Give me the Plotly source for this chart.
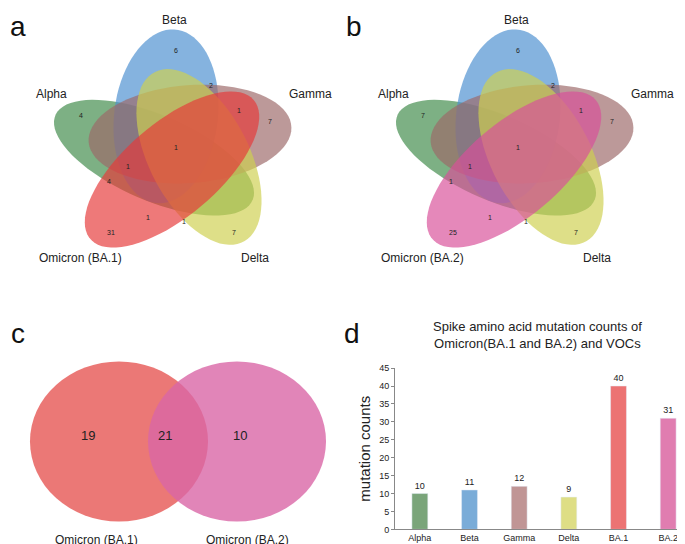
import numpy as np
import plotly.graph_objects as go

# five-set venn counts (panel a: BA.1, panel b: BA.2)
venn_sets = ["Alpha", "Beta", "Gamma", "Delta", "Omicron"]
venn_a_counts = ["6", "2", "1", "7", "4", "1", "1", "4", "1", "1", "31", "7"]
venn_b_counts = ["6", "2", "1", "7", "7", "1", "1", "1", "1", "1", "25", "7"]

# two-set venn
pair_labels = ["Omicron (BA.1)", "Omicron (BA.2)"]
pair_counts = ["19", "21", "10"]

# bar chart
bar_cats = ["Alpha", "Beta", "Gamma", "Delta", "BA.1", "BA.2"]
bar_vals = [10, 11, 12, 9, 40, 31]
bar_colors = ["#7aa57a", "#7aacd8", "#c09595", "#dede85", "#ec7373", "#e07db0"]

W, H = 685, 544
SY = 0.752  # vertical squeeze of the five-set panels


def ellipse_path(cx, cy, a, b, ang):
    t = np.linspace(0, 2 * np.pi, 80)
    r = np.radians(ang)
    xs = cx + a * np.cos(t) * np.cos(r) - b * np.sin(t) * np.sin(r)
    ys = (cy + a * np.cos(t) * np.sin(r) + b * np.sin(t) * np.cos(r)) * SY
    return "M " + " L ".join(f"{x:.1f},{y:.1f}" for x, y in zip(xs, ys)) + " Z"


# ellipse geometry (cx, cy, a, b, angle in screen degrees)
shapes_geo = {
    "Alpha": (146, 196, 115, 54, 34),
    "Beta": (158, 140, 118, 52, -86),
    "Gamma": (182, 164, 102, 66, -8),
    "Delta": (191, 195, 124, 52, 72),
    "Omicron": (164, 212, 126, 54, -53),
}
cols_a = {"Alpha": "#3f8a4a", "Beta": "#4b8fd0", "Gamma": "#9c6868",
          "Delta": "#cfd050", "Omicron": "#e63a3a"}
cols_b = dict(cols_a, Omicron="#d94f9a")

fig = go.Figure()
shapes = []
for dx, cols in [(0, cols_a), (342, cols_b)]:
    for s in venn_sets:
        cx, cy, a, b, ang = shapes_geo[s]
        shapes.append(dict(type="path", path=ellipse_path(cx + dx, cy, a, b, ang),
                           xref="x", yref="y", fillcolor=cols[s], opacity=0.68,
                           line=dict(width=0), layer="below"))

# two-set venn
for cx, col, op in [(111, "#e8605e", 0.85), (229, "#da67a6", 0.8)]:
    shapes.append(dict(type="circle", xref="x", yref="y", x0=cx - 89, x1=cx + 89,
                       y0=355, y1=518, fillcolor=col, opacity=op,
                       line=dict(width=0), layer="below"))

ann = []
num_pos = [(168, 51), (203, 98), (231, 132), (262, 147), (73, 139), (168, 182),
           (120, 208), (101, 228), (140, 277), (176, 282), (103, 298), (226, 298)]
for dx, counts, om in [(0, venn_a_counts, "Omicron (BA.1)"), (342, venn_b_counts, "Omicron (BA.2)")]:
    for (x, y), c in zip(num_pos, counts):
        ann.append(dict(x=x + dx, y=y * SY, text=c, font=dict(size=7, color="#222")))
    for x, y, t in [(166, 10, "Beta"), (43, 110, "Alpha"), (302, 110, "Gamma"),
                    (72, 332, om), (247, 332, "Delta")]:
        ann.append(dict(x=x + dx, y=y * SY, text=t, font=dict(size=12, color="#222")))

for x, t in zip([80, 157, 232], pair_counts):
    ann.append(dict(x=x, y=430, text=t, font=dict(size=13, color="#222")))
for x, t in zip([88, 239], pair_labels):
    ann.append(dict(x=x, y=537, text=t, font=dict(size=12, color="#222")))

for x, y, t in [(10, 14, "a"), (346, 14, "b"), (10, 326, "c"), (344, 326, "d")]:
    ann.append(dict(x=x, y=y, text=t, font=dict(size=28, color="#111")))

ann.append(dict(x=529, y=328, text="Spike amino acid mutation counts of<br>Omicron(BA.1 and BA.2) and VOCs",
                font=dict(size=13, color="#222")))
for a_ in ann:
    a_.update(xref="x", yref="y", showarrow=False)

fig.add_trace(go.Bar(x=bar_cats, y=bar_vals, marker_color=bar_colors, width=0.32,
                     text=bar_vals, textposition="outside", textfont=dict(size=9, color="#222"),
                     xaxis="x2", yaxis="y2", showlegend=False, cliponaxis=False))

fig.update_layout(
    width=W, height=H, margin=dict(l=0, r=0, t=0, b=0),
    paper_bgcolor="white", plot_bgcolor="rgba(0,0,0,0)",
    font=dict(family="Liberation Sans, Arial"),
    shapes=shapes, annotations=ann,
    xaxis=dict(range=[0, W], domain=[0, 1], visible=False),
    yaxis=dict(range=[H, 0], domain=[0, 1], visible=False),
    xaxis2=dict(domain=[0.565, 1.0], anchor="y2", showline=True, linecolor="#888",
                ticks="", tickfont=dict(size=9, color="#222")),
    yaxis2=dict(domain=[0.033, 0.335], anchor="x2", range=[0, 45], dtick=5,
                showline=True, linecolor="#888", ticks="outside", ticklen=3,
                tickcolor="#888", showgrid=False, zeroline=False,
                tickfont=dict(size=9, color="#222"),
                title=dict(text="mutation counts", font=dict(size=15, color="#222"), standoff=4)),
)

fig.write_html("out.html")
